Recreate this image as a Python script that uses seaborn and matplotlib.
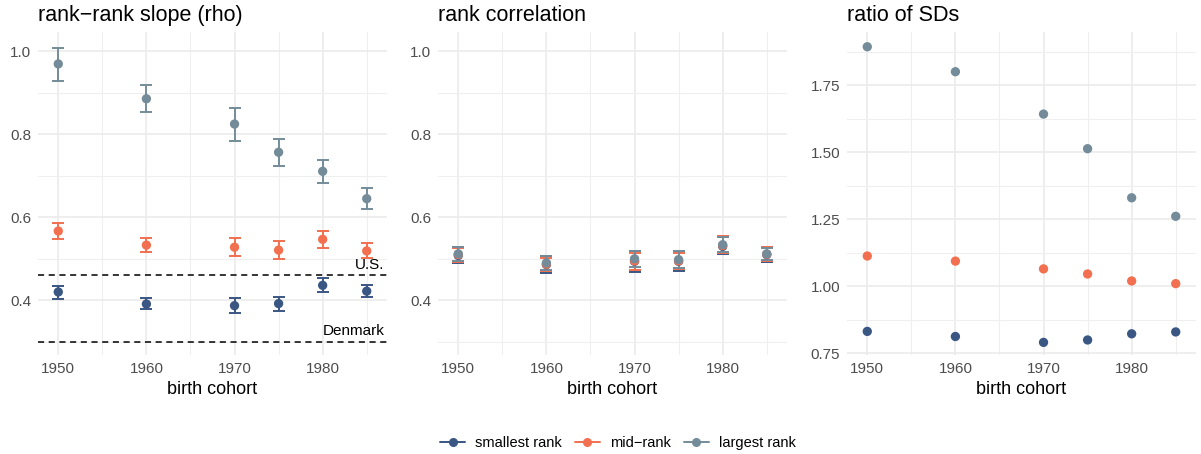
import numpy as np
import pandas as pd
import matplotlib
matplotlib.use("Agg")
import matplotlib.pyplot as plt
from matplotlib.lines import Line2D
from matplotlib.ticker import MultipleLocator, FormatStrFormatter
import seaborn as sns

# --- DATA
cohorts = [1950, 1960, 1970, 1975, 1980, 1985]
groups = ["smallest rank", "mid\u2212rank", "largest rank"]

slope_small = [0.420, 0.391, 0.387, 0.392, 0.436, 0.422]
slope_small_lo = [0.404, 0.378, 0.370, 0.375, 0.419, 0.407]
slope_small_hi = [0.435, 0.405, 0.405, 0.409, 0.454, 0.437]
slope_mid = [0.567, 0.533, 0.528, 0.521, 0.547, 0.519]
slope_mid_lo = [0.548, 0.516, 0.507, 0.500, 0.527, 0.501]
slope_mid_hi = [0.587, 0.550, 0.550, 0.542, 0.567, 0.537]
slope_large = [0.970, 0.886, 0.825, 0.757, 0.711, 0.645]
slope_large_lo = [0.930, 0.854, 0.785, 0.724, 0.683, 0.620]
slope_large_hi = [1.009, 0.918, 0.864, 0.790, 0.739, 0.670]

corr_small = [0.508, 0.486, 0.494, 0.494, 0.530, 0.510]
corr_small_lo = [0.489, 0.466, 0.468, 0.470, 0.512, 0.492]
corr_small_hi = [0.529, 0.506, 0.518, 0.516, 0.552, 0.528]
corr_mid = [0.510, 0.487, 0.495, 0.495, 0.532, 0.511]
corr_mid_lo = [0.492, 0.470, 0.474, 0.476, 0.515, 0.494]
corr_mid_hi = [0.526, 0.503, 0.515, 0.513, 0.555, 0.529]
corr_large = [0.512, 0.490, 0.500, 0.498, 0.534, 0.512]
corr_large_lo = [0.495, 0.474, 0.480, 0.478, 0.517, 0.496]
corr_large_hi = [0.528, 0.506, 0.520, 0.518, 0.553, 0.527]

sdratio_small = [0.832, 0.813, 0.791, 0.800, 0.823, 0.830]
sdratio_mid = [1.113, 1.094, 1.065, 1.046, 1.020, 1.010]
sdratio_large = [1.893, 1.800, 1.642, 1.513, 1.330, 1.261]

ref_lines = {"U.S.": 0.46, "Denmark": 0.30}

colors = ["#3A5683", "#F2704F", "#748C99"]


def long_table(vals, lo=None, hi=None):
    rows = []
    for g, v in zip(groups, vals):
        for i, c in enumerate(cohorts):
            rows.append({"cohort": c, "group": g, "value": v[i]})
    df = pd.DataFrame(rows)
    if lo is not None:
        df["lo"] = np.concatenate(lo)
        df["hi"] = np.concatenate(hi)
    return df


df_slope = long_table([slope_small, slope_mid, slope_large],
                      [slope_small_lo, slope_mid_lo, slope_large_lo],
                      [slope_small_hi, slope_mid_hi, slope_large_hi])
df_corr = long_table([corr_small, corr_mid, corr_large],
                     [corr_small_lo, corr_mid_lo, corr_large_lo],
                     [corr_small_hi, corr_mid_hi, corr_large_hi])
df_sd = long_table([sdratio_small, sdratio_mid, sdratio_large])

# --- STYLE
sns.set_style("white")
plt.rcParams["font.family"] = ["Liberation Sans", "DejaVu Sans"]
plt.rcParams["text.color"] = "black"
plt.rcParams["axes.labelcolor"] = "black"

W, H = 1201, 454
fig = plt.figure(figsize=(W / 100, H / 100), dpi=100)


def make_ax(x0):
    return fig.add_axes([x0 / W, (H - 355) / H, 349 / W, 323 / H])


ax1 = make_ax(38)
ax2 = make_ax(438)
ax3 = make_ax(847)

pal = dict(zip(groups, colors))


def style_ax(ax, title, ylim, major, minor, fmt):
    ax.set_xlim(1947.7, 1987.3)
    ax.set_ylim(*ylim)
    ax.xaxis.set_major_locator(MultipleLocator(10))
    ax.xaxis.set_minor_locator(MultipleLocator(5))
    ax.yaxis.set_major_locator(MultipleLocator(major))
    ax.yaxis.set_minor_locator(MultipleLocator(minor))
    ax.yaxis.set_major_formatter(FormatStrFormatter(fmt))
    ax.grid(which="major", color="#EBEBEB", lw=1.2)
    ax.grid(which="minor", color="#EFEFEF", lw=0.8)
    ax.set_axisbelow(True)
    for s in ax.spines.values():
        s.set_visible(False)
    ax.tick_params(which="both", length=0, labelsize=11, labelcolor="#4D4D4D")
    ax.tick_params(axis="x", pad=5)
    ax.tick_params(axis="y", pad=5)
    ax.set_xlabel("birth cohort", fontsize=13, labelpad=4, color="black")
    ax.set_ylabel("")
    ax.set_title(title, loc="left", fontsize=15.5, pad=8, color="black")
    if ax.get_legend() is not None:
        ax.get_legend().remove()


def draw_errbars(ax, df):
    for g in groups:
        d = df[df["group"] == g]
        ax.errorbar(d["cohort"], d["value"],
                    yerr=[d["value"] - d["lo"], d["hi"] - d["value"]],
                    fmt="none", ecolor=pal[g], elinewidth=1.4,
                    capsize=4, capthick=1.4, zorder=2)


# panel 1
draw_errbars(ax1, df_slope)
sns.scatterplot(data=df_slope, x="cohort", y="value", hue="group",
                palette=pal, s=45, edgecolor="none", ax=ax1, zorder=3)
for lab, yv in ref_lines.items():
    ax1.axhline(yv, color="black", ls=(0, (4, 3)), lw=1.1, zorder=1)
    ax1.text(1987.0, yv + 0.008, lab, ha="right", va="bottom", fontsize=11,
             color="black")
style_ax(ax1, "rank\u2212rank slope (rho)", (0.268, 1.047), 0.2, 0.1, "%.1f")

# panel 2
draw_errbars(ax2, df_corr)
sns.scatterplot(data=df_corr, x="cohort", y="value", hue="group",
                palette=pal, s=45, edgecolor="none", ax=ax2, zorder=3)
style_ax(ax2, "rank correlation", (0.268, 1.047), 0.2, 0.1, "%.1f")

# panel 3
sns.scatterplot(data=df_sd, x="cohort", y="value", hue="group",
                palette=pal, s=45, edgecolor="none", ax=ax3, zorder=3)
style_ax(ax3, "ratio of SDs", (0.744, 1.948), 0.25, 0.125, "%.2f")

handles = [Line2D([0], [0], color=c, marker="o", markersize=5.5, lw=1.4)
           for c in colors]
fig.legend(handles, groups, loc="center", ncol=3, frameon=False,
           bbox_to_anchor=(618 / W, 1 - 443 / H), fontsize=10.5,
           handlelength=1.7, handletextpad=0.7, columnspacing=0.9)

fig.savefig("out.png", dpi=100)
